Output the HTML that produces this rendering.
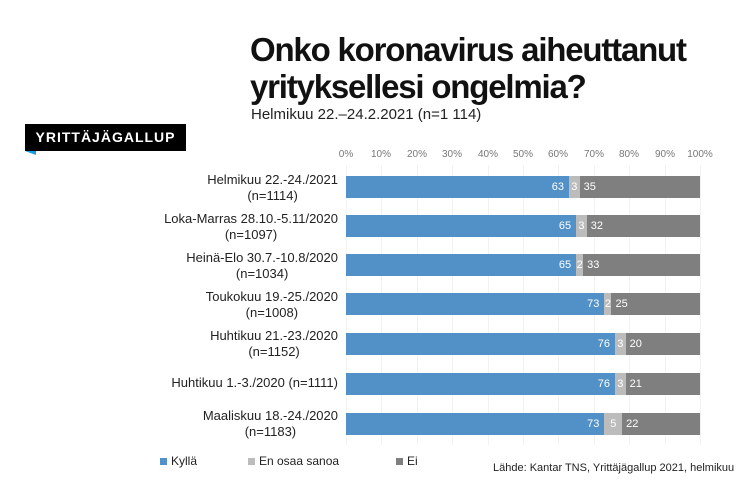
<!DOCTYPE html><html><head><style>
body{margin:0;width:750px;height:500px;background:#fff;font-family:"Liberation Sans",sans-serif;position:relative;overflow:hidden}
.t{position:absolute;left:250px;top:31px;font-size:33px;font-weight:bold;line-height:37px;color:#111;letter-spacing:-1.2px}
.s{position:absolute;left:251px;top:106px;font-size:15px;color:#222}
.logo{position:absolute;left:25px;top:124px;width:161px;height:27px;background:#000;color:#fff;font-weight:bold;font-size:14px;letter-spacing:1px;line-height:27px;text-align:center}
.tri{position:absolute;left:25px;top:151px;width:0;height:0;border-top:4px solid #1a9be0;border-left:11px solid transparent}
.ax{position:absolute;top:149px;font-size:10px;color:#777;width:40px;margin-left:-20px;text-align:center}
.g{position:absolute;top:165px;width:1px;height:280px;background:#f2f2f2}
.lab{position:absolute;right:412px;text-align:center;font-size:13px;color:#222;line-height:16px;white-space:nowrap}
.bar{position:absolute;left:346px;height:22px;width:354px;display:flex;font-size:11px;color:#fff;line-height:22px}
.bar div{height:100%;overflow:hidden}
.a{background:#5191c8;text-align:right}
.a span{padding-right:5px}
.b{background:#bcbcbc;text-align:center}
.c{background:#7f7f7f;padding-left:4px;box-sizing:border-box}
.leg{position:absolute;top:454px;font-size:12px;color:#222}
.sq{display:inline-block;width:7px;height:7px;margin-right:4px}
</style></head><body>
<div class="t">Onko koronavirus aiheuttanut<br>yrityksellesi ongelmia?</div>
<div class="s">Helmikuu 22.–24.2.2021 (n=1 114)</div>
<div class="logo">YRITTÄJÄGALLUP</div><div class="tri"></div>
<div class="ax" style="left:346px">0%</div><div class="ax" style="left:381px">10%</div><div class="ax" style="left:417px">20%</div><div class="ax" style="left:452px">30%</div><div class="ax" style="left:488px">40%</div><div class="ax" style="left:523px">50%</div><div class="ax" style="left:558px">60%</div><div class="ax" style="left:594px">70%</div><div class="ax" style="left:629px">80%</div><div class="ax" style="left:665px">90%</div><div class="ax" style="left:700px">100%</div>
<div class="g" style="left:346px"></div><div class="g" style="left:381px"></div><div class="g" style="left:417px"></div><div class="g" style="left:452px"></div><div class="g" style="left:488px"></div><div class="g" style="left:523px"></div><div class="g" style="left:558px"></div><div class="g" style="left:594px"></div><div class="g" style="left:629px"></div><div class="g" style="left:665px"></div><div class="g" style="left:700px"></div>

<div class="lab" style="top:172px">Helmikuu 22.-24./2021<br>(n=1114)</div>
<div class="bar" style="top:176px"><div class="a" style="width:63%"><span>63</span></div><div class="b" style="width:3%">3</div><div class="c" style="width:34%">35</div></div>
<div class="lab" style="top:211px">Loka-Marras 28.10.-5.11/2020<br>(n=1097)</div>
<div class="bar" style="top:215px"><div class="a" style="width:65%"><span>65</span></div><div class="b" style="width:3%">3</div><div class="c" style="width:32%">32</div></div>
<div class="lab" style="top:250px">Heinä-Elo 30.7.-10.8/2020<br>(n=1034)</div>
<div class="bar" style="top:254px"><div class="a" style="width:65%"><span>65</span></div><div class="b" style="width:2%">2</div><div class="c" style="width:33%">33</div></div>
<div class="lab" style="top:289px">Toukokuu 19.-25./2020<br>(n=1008)</div>
<div class="bar" style="top:293px"><div class="a" style="width:73%"><span>73</span></div><div class="b" style="width:2%">2</div><div class="c" style="width:25%">25</div></div>
<div class="lab" style="top:328px">Huhtikuu 21.-23./2020<br>(n=1152)</div>
<div class="bar" style="top:333px"><div class="a" style="width:76%"><span>76</span></div><div class="b" style="width:3%">3</div><div class="c" style="width:21%">20</div></div>
<div class="lab" style="top:375px">Huhtikuu 1.-3./2020 (n=1111)</div>
<div class="bar" style="top:373px"><div class="a" style="width:76%"><span>76</span></div><div class="b" style="width:3%">3</div><div class="c" style="width:21%">21</div></div>
<div class="lab" style="top:408px">Maaliskuu 18.-24./2020<br>(n=1183)</div>
<div class="bar" style="top:413px"><div class="a" style="width:73%"><span>73</span></div><div class="b" style="width:5%">5</div><div class="c" style="width:22%">22</div></div>

<div class="leg" style="left:160px"><span class="sq" style="background:#5191c8"></span>Kyllä</div>
<div class="leg" style="left:248px"><span class="sq" style="background:#bcbcbc"></span>En osaa sanoa</div>
<div class="leg" style="left:396px"><span class="sq" style="background:#7f7f7f"></span>Ei</div>
<div style="position:absolute;left:493px;top:462px;font-size:11px;color:#222">Lähde: Kantar TNS, Yrittäjägallup 2021, helmikuu</div>
</body></html>
